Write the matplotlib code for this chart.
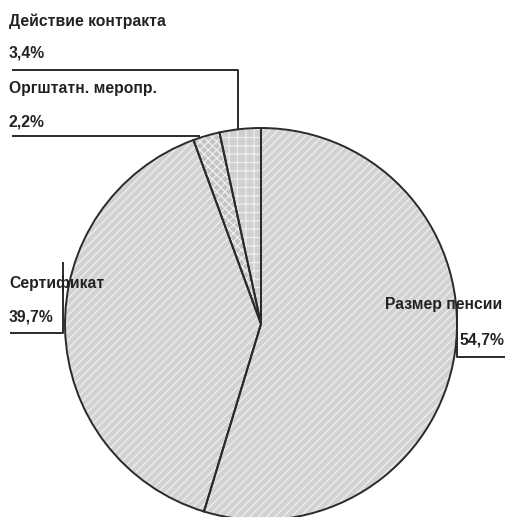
import matplotlib
matplotlib.use("Agg")
import matplotlib.pyplot as plt

# slices in drawing order (clockwise from 12 o'clock)
labels = ["Размер пенсии", "Сертификат", "Оргштатн. меропр.", "Действие контракта"]
shares = [54.7, 39.7, 2.2, 3.4]
share_text = ["54,7%", "39,7%", "2,2%", "3,4%"]
hatches = ["////", "////", "xxxx", "++"]
faces = ["#d2d2d2", "#d2d2d2", "#c4c4c4", "#d0d0d0"]

W, H = 506, 517
plt.rcParams['font.family'] = ['Liberation Sans', 'DejaVu Sans']

fig = plt.figure(figsize=(W / 100, H / 100), dpi=100)
ax = fig.add_axes([0, 0, 1, 1])


def Y(y):
    # pixel row -> axis coordinate
    return H - y


center = (261, Y(324))
radius = 196

# fill + light hatch
plt.rcParams['hatch.linewidth'] = 0.9
wedges, _ = ax.pie(shares, startangle=90, counterclock=False, center=center,
                   radius=radius, frame=True,
                   wedgeprops=dict(edgecolor="#efefef", linewidth=0))
for w, h, fc in zip(wedges, hatches, faces):
    w.set_hatch(h)
    w.set_facecolor(fc)
# dark outlines on top
ax.pie(shares, startangle=90, counterclock=False, center=center, radius=radius,
       frame=True, wedgeprops=dict(facecolor="none", edgecolor="#2a2a2a", linewidth=1.4))
ax.set_xlim(0, W)
ax.set_ylim(0, H)
ax.set_aspect('equal')
ax.axis('off')

tc = "#222222"
kw = dict(fontsize=11.3, fontweight='bold', color=tc, va='center', ha='left')
lk = dict(color="#2a2a2a", lw=1.4, solid_capstyle='butt')

# Действие контракта
ax.text(9, Y(21), labels[3], **kw)
ax.text(9, Y(53), share_text[3], **kw)
ax.plot([12, 238, 238], [Y(70), Y(70), Y(130)], **lk)

# Оргштатн. меропр.
ax.text(9, Y(89), labels[2], **kw)
ax.text(9, Y(122), share_text[2], **kw)
ax.plot([12, 200], [Y(136), Y(136)], **lk)

# Сертификат
ax.text(9, Y(283), labels[1], **kw)
ax.text(9, Y(317), share_text[1], **kw)
ax.plot([10, 63, 63], [Y(333), Y(333), Y(262)], **lk)

# Размер пенсии
ax.text(385, Y(305), labels[0], **kw)
ax.text(460, Y(340), share_text[0], **kw)
ax.plot([457, 457, 506], [Y(308), Y(357), Y(357)], **lk)

fig.savefig("out.png", dpi=100, facecolor="white")
